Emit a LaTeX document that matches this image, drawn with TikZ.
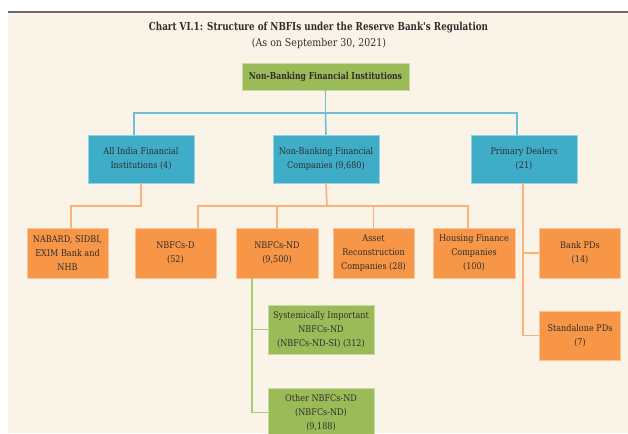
\documentclass[tikz,border=0pt]{standalone}
\usepackage{fontspec}
\setmainfont{DejaVu Serif}[FakeStretch=0.88]
\newfontfamily\headfont{DejaVu Serif}[FakeStretch=0.8]
\definecolor{cream}{HTML}{FAF3E8}
\definecolor{rulegray}{HTML}{6E6A66}
\definecolor{inkgray}{HTML}{2E2E2E}
\definecolor{boxblue}{HTML}{3FADC8}
\definecolor{boxorange}{HTML}{F79646}
\definecolor{boxgreen}{HTML}{9BBB59}
\definecolor{lineblue}{HTML}{6EBFD3}
\definecolor{lineorange}{HTML}{F9B27C}
\definecolor{linegreen}{HTML}{ABCA72}
\begin{document}
\begin{tikzpicture}[x=1pt, y=-1pt,
    every node/.style={text=inkgray},
    box/.style={rectangle, align=center, inner sep=1pt, line width=0.9pt,
      font=\fontsize{9.2}{14}\selectfont},
    bluebox/.style={box, fill=boxblue, draw=boxblue!55!white, minimum width=106, minimum height=48},
    orangebox/.style={box, fill=boxorange, draw=boxorange!55!white, minimum width=81, minimum height=50},
    greenbox/.style={box, fill=boxgreen, draw=boxgreen!55!white, minimum width=106, minimum height=49},
    blink/.style={draw=lineblue, line width=1.6pt},
    olink/.style={draw=lineorange, line width=1.6pt},
    glink/.style={draw=linegreen, line width=1.6pt}]
  % 1. page, background and top rule
  \useasboundingbox (0,0) rectangle (628,433);
  \clip (0,0) rectangle (628,433);
  \fill[white] (0,0) rectangle (628,433);
  \fill[cream] (8,13) rectangle (628,433);
  \draw[rulegray, line width=1.5pt] (8,12) -- (628,12);

  % 2. heading
  \node (title) at (318.5,28) {\headfont\fontsize{11}{12}\selectfont\bfseries Chart VI.1: Structure of NBFIs under the Reserve Bank's Regulation};
  \node (subtitle) at (319,43.5) {\fontsize{10.7}{12}\selectfont (As on September 30, 2021)};

  % 3. boxes
  \node[greenbox, minimum width=167, minimum height=27, font=\headfont\fontsize{9.6}{12}\selectfont\bfseries] (root) at (325.5,76.5) {Non-Banking Financial Institutions};

  \node[bluebox] (aifi) at (141,159) {All India Financial\\Institutions (4)};
  \node[bluebox] (nbfc) at (326,159) {Non-Banking Financial\\Companies (9,680)};
  \node[bluebox] (pd)   at (524,159) {Primary Dealers\\(21)};

  \node[orangebox] (nabard) at (67.5,253)  {NABARD, SIDBI,\\EXIM Bank and\\NHB};
  \node[orangebox] (nbfcd)  at (175.5,253) {NBFCs-D\\(52)};
  \node[orangebox, minimum width=82] (nbfcnd) at (277,253) {NBFCs-ND\\(9,500)};
  \node[orangebox] (arc)    at (373.5,253) {Asset\\Reconstruction\\Companies (28)};
  \node[orangebox, minimum width=82] (hfc) at (474,253) {Housing Finance\\Companies\\(100)};
  \node[orangebox] (bankpd) at (580,253)   {Bank PDs\\(14)};
  \node[orangebox, minimum height=49] (standalone) at (580,335.5) {Standalone PDs\\(7)};

  \node[greenbox] (si)    at (321,329.5) {Systemically Important\\NBFCs-ND\\(NBFCs-ND-SI) (312)};
  \node[greenbox] (other) at (321,412.5) {Other NBFCs-ND\\(NBFCs-ND)\\(9,188)};

  % 4. connectors
  \coordinate (busblue) at (325.5,113);
  \coordinate (busaifi) at (142,206);
  \coordinate (busnbfc) at (327,206);
  \coordinate (pddrop) at ([xshift=-1]pd.south);
  \coordinate (nddrop) at ([xshift=-25]nbfcnd.south);
  \draw[blink] (root.south) -- (root.south |- busblue);
  \draw[blink] ([xshift=-7]aifi.north) |- (busblue) -| ([xshift=-7]pd.north);
  \draw[blink] (busblue) -- (nbfc.north);

  \draw[olink] (aifi.south) |- (busaifi) -| ([xshift=3.5]nabard.north);
  \draw[olink] (nbfc.south) -- (busnbfc);
  \draw[olink] ([xshift=22.5]nbfcd.north) |- (busnbfc) -| ([xshift=-6]hfc.north);
  \draw[olink] (nbfcnd.north) -- (nbfcnd.north |- busnbfc);
  \draw[olink] (arc.north) -- (arc.north |- busnbfc);
  \draw[olink] (pddrop) |- (standalone.west);
  \draw[olink] (bankpd.west) -- (bankpd.west -| pddrop);

  \draw[glink] (nddrop) |- (other.west);
  \draw[glink] (si.west) -- (si.west -| nddrop);
\end{tikzpicture}
\end{document}
